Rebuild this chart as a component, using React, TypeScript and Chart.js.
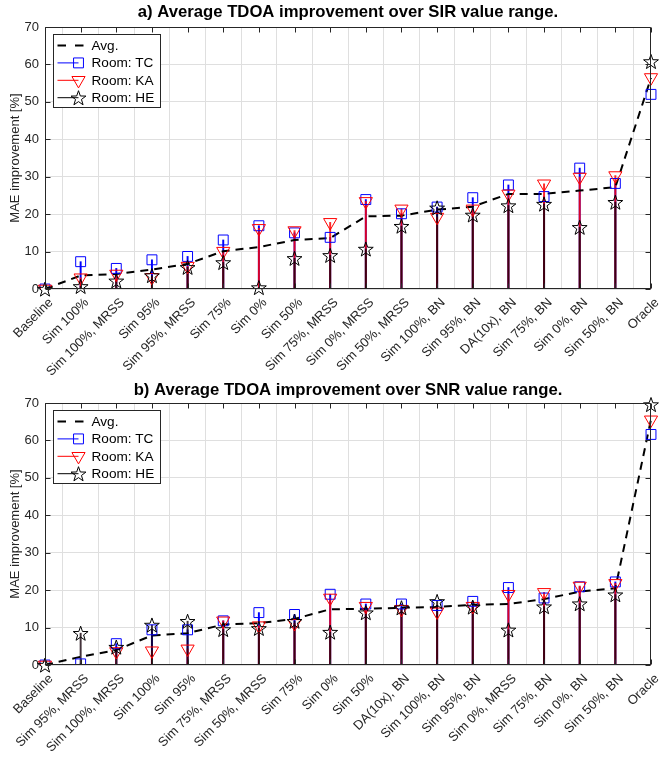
import React, { useEffect, useRef } from 'react';
import { Chart, registerables } from 'chart.js';
import { drawPoint } from 'chart.js/helpers';

Chart.register(...registerables);

const FONT = "'Liberation Sans', Arial, Helvetica, sans-serif";
const INK = '#262626';
const GRID = '#dfdfdf';
const BLUE = '#0000ff';
const RED = '#ff0000';

const legendLabels = ['Avg.', 'Room: TC', 'Room: KA', 'Room: HE'];
const yLabel = 'MAE improvement [%]';

// a) SIR
const sirTitle = 'a) Average TDOA improvement over SIR value range.';
const sirCategories = ['Baseline', 'Sim 100%', 'Sim 100%, MRSS', 'Sim 95%', 'Sim 95%, MRSS', 'Sim 75%', 'Sim 0%', 'Sim 50%', 'Sim 75%, MRSS', 'Sim 0%, MRSS', 'Sim 50%, MRSS', 'Sim 100%, BN', 'Sim 95%, BN', 'DA(10x), BN', 'Sim 75%, BN', 'Sim 0%, BN', 'Sim 50%, BN', 'Oracle'];
const sirAvg = [0, 3.6, 4.0, 5.2, 6.7, 10.1, 11.2, 13.1, 13.6, 19.4, 19.6, 21.2, 22.0, 25.4, 25.4, 26.3, 27.2, 56.4];
const sirTC = [0, 7.3, 5.5, 7.8, 8.7, 13.1, 16.9, 15.0, 13.8, 23.9, 20.1, 21.9, 24.4, 27.8, 24.7, 32.3, 28.2, 52.0];
const sirKA = [0, 3.0, 4.0, 3.1, 6.1, 10.1, 16.2, 15.6, 17.8, 23.4, 21.4, 19.2, 21.4, 25.4, 28.1, 29.9, 30.3, 56.5];
const sirHE = [0, 0.7, 2.2, 3.6, 5.8, 7.1, 0.4, 8.2, 9.0, 10.7, 16.8, 21.7, 19.8, 22.3, 22.7, 16.5, 23.2, 60.8];

// b) SNR
const snrTitle = 'b) Average TDOA improvement over SNR value range.';
const snrCategories = ['Baseline', 'Sim 95%, MRSS', 'Sim 100%, MRSS', 'Sim 100%', 'Sim 95%', 'Sim 75%, MRSS', 'Sim 50%, MRSS', 'Sim 75%', 'Sim 0%', 'Sim 50%', 'DA(10x), BN', 'Sim 100%, BN', 'Sim 95%, BN', 'Sim 0%, MRSS', 'Sim 75%, BN', 'Sim 0%, BN', 'Sim 50%, BN', 'Oracle'];
const snrAvg = [0, 2.2, 4.0, 7.9, 8.5, 10.8, 11.2, 12.3, 14.9, 15.0, 15.3, 15.5, 16.1, 16.3, 17.6, 19.6, 20.5, 65.6];
const snrTC = [0, 0.3, 5.7, 9.4, 9.4, 11.8, 14.0, 13.5, 18.9, 16.3, 16.3, 15.9, 17.0, 20.7, 17.9, 20.9, 22.2, 61.6];
const snrKA = [0, -2.2, 3.6, 3.8, 4.3, 11.8, 10.5, 11.1, 17.9, 15.7, 14.9, 14.2, 15.7, 18.9, 19.4, 21.1, 21.8, 65.5];
const snrHE = [0, 8.5, 4.8, 10.7, 11.7, 9.5, 9.8, 11.7, 8.8, 14.0, 15.3, 17.0, 15.5, 9.4, 15.6, 16.4, 18.8, 69.6];

const Y_MIN = 0;
const Y_MAX = 70;
const Y_STEP = 10;

function pentagram(ctx: CanvasRenderingContext2D, cx: number, cy: number) {
  const R = 7.8;
  const r = R * 0.4;
  const oy = cy + 0.8;
  ctx.save();
  ctx.setLineDash([]);
  ctx.beginPath();
  for (let i = 0; i < 10; i++) {
    const a = -Math.PI / 2 + (i * Math.PI) / 5;
    const rr = i % 2 === 0 ? R : r;
    const x = cx + rr * Math.cos(a);
    const y = oy + rr * Math.sin(a);
    if (i === 0) ctx.moveTo(x, y);
    else ctx.lineTo(x, y);
  }
  ctx.closePath();
  ctx.strokeStyle = '#000';
  ctx.lineWidth = 1;
  ctx.stroke();
  ctx.restore();
}

type PanelProps = {
  title: string;
  categories: string[];
  avg: number[];
  tc: number[];
  ka: number[];
  he: number[];
  height: number;
  padTop: number;
  titleY: number;
};

const STAR_DS = 6;

function Panel(props: PanelProps) {
  const ref = useRef<HTMLCanvasElement>(null);
  useEffect(() => {
    const canvas = ref.current!;
    const xAxisHeight = props.height - props.padTop - 262;
    const markerRadius = (r: number) => (c: any) => (typeof c.raw === 'number' && c.raw < Y_MIN ? 0 : r);

    const stem = (data: number[], color: string, order: number) => ({
      type: 'bar' as const,
      label: '',
      data,
      backgroundColor: color,
      borderWidth: 0,
      barThickness: 1.3,
      grouped: false,
      order,
    });
    const marker = (label: string, data: number[], color: string, style: any, radius: number, rotation: number, order: number) => ({
      type: 'line' as const,
      label,
      data,
      showLine: false,
      pointStyle: style,
      pointRadius: markerRadius(radius),
      pointHoverRadius: markerRadius(radius),
      pointRotation: rotation,
      pointBorderColor: color,
      pointBackgroundColor: 'rgba(0,0,0,0)',
      pointBorderWidth: 1,
      order,
    });

    const decor = {
      id: 'decor',
      afterDatasetsDraw(chart: any) {
        // pentagram markers for Room: HE, placed at the library-computed point positions
        const { ctx, chartArea: a } = chart;
        const meta = chart.getDatasetMeta(STAR_DS);
        ctx.save();
        ctx.beginPath();
        ctx.rect(a.left - 10, a.top - 10, a.right - a.left + 20, a.bottom - a.top + 20);
        ctx.clip();
        meta.data.forEach((el: any, i: number) => {
          const v = props.he[i];
          if (v < Y_MIN) return;
          pentagram(ctx, el.x, el.y);
        });
        ctx.restore();
      },
      afterDraw(chart: any) {
        const { ctx, chartArea: a, scales } = chart;
        const L = Math.round(a.left) + 0.5;
        const R = Math.round(a.right) - 0.5;
        const T = Math.round(a.top) + 0.5;
        const B = Math.round(a.bottom) - 0.5;
        ctx.save();
        // frame
        ctx.strokeStyle = INK;
        ctx.lineWidth = 1;
        ctx.beginPath();
        ctx.rect(L, T, R - L, B - T);
        // inward ticks
        const xs = scales.x;
        xs.ticks.forEach((_t: any, i: number) => {
          const px = Math.round(xs.getPixelForTick(i)) + 0.5;
          ctx.moveTo(px, T);
          ctx.lineTo(px, T + 5);
          ctx.moveTo(px, B);
          ctx.lineTo(px, B - 5);
        });
        const ys = scales.y;
        ys.ticks.forEach((t: any) => {
          const py = Math.round(ys.getPixelForValue(t.value)) + 0.5;
          ctx.moveTo(L, py);
          ctx.lineTo(L + 5, py);
          ctx.moveTo(R, py);
          ctx.lineTo(R - 5, py);
        });
        ctx.stroke();

        // title
        ctx.fillStyle = '#000';
        ctx.font = `bold 16.7px ${FONT}`;
        ctx.textAlign = 'center';
        ctx.textBaseline = 'middle';
        ctx.fillText(props.title, (a.left + a.right) / 2, props.titleY);

        // legend
        const lx = Math.round(a.left) + 8.5;
        const ly = Math.round(a.top) + 7.5;
        const lw = 107;
        const lh = 73;
        ctx.fillStyle = '#ffffff';
        ctx.fillRect(lx, ly, lw, lh);
        ctx.strokeStyle = INK;
        ctx.lineWidth = 1;
        ctx.strokeRect(lx, ly, lw, lh);
        const rowY = (k: number) => ly + 11 + k * 17.4;
        ctx.font = `13.6px ${FONT}`;
        ctx.textAlign = 'left';
        ctx.textBaseline = 'middle';
        legendLabels.forEach((lab, k) => {
          const y = rowY(k);
          ctx.save();
          if (k === 0) {
            ctx.strokeStyle = '#000';
            ctx.lineWidth = 2;
            ctx.setLineDash([8.5, 9]);
            ctx.beginPath();
            ctx.moveTo(lx + 4, y);
            ctx.lineTo(lx + 31, y);
            ctx.stroke();
          } else {
            const color = k === 1 ? BLUE : k === 2 ? RED : '#000';
            ctx.strokeStyle = color;
            ctx.lineWidth = 1;
            ctx.beginPath();
            ctx.moveTo(lx + 4, y);
            ctx.lineTo(lx + 25, y);
            ctx.stroke();
            ctx.fillStyle = 'rgba(0,0,0,0)';
            if (k === 1) drawPoint(ctx, { pointStyle: 'rect', radius: 7, rotation: 0, borderWidth: 1 } as any, lx + 25, y);
            if (k === 2) drawPoint(ctx, { pointStyle: 'triangle', radius: 7.6, rotation: 180, borderWidth: 1 } as any, lx + 25, y);
            if (k === 3) pentagram(ctx, lx + 25, y);
          }
          ctx.restore();
          ctx.fillStyle = '#000';
          ctx.fillText(lab, lx + 38, y + 0.5);
        });
        ctx.restore();
      },
    };

    const chart = new Chart(canvas, {
      data: {
        labels: props.categories,
        datasets: [
          stem(props.tc, BLUE, 20),
          stem(props.ka, 'rgba(255,0,0,0.85)', 19),
          stem(props.he, 'rgba(20,0,10,0.8)', 18),
          {
            type: 'line',
            label: legendLabels[0],
            data: props.avg,
            borderColor: '#000',
            borderWidth: 2,
            borderDash: [8, 6],
            pointRadius: 0,
            fill: false,
            tension: 0,
            order: 10,
          } as any,
          marker(legendLabels[1], props.tc, BLUE, 'rect', 7, 0, 5),
          marker(legendLabels[2], props.ka, RED, 'triangle', 7.6, 180, 4),
          {
            type: 'line',
            label: legendLabels[3],
            data: props.he,
            showLine: false,
            pointRadius: 0,
            pointHoverRadius: 0,
            order: 3,
          } as any,
        ] as any,
      },
      options: {
        responsive: false,
        animation: false,
        events: [],
        layout: { padding: { top: props.padTop, left: 0, right: 9, bottom: 0 } },
        plugins: {
          legend: { display: false },
          title: { display: false },
          tooltip: { enabled: false },
        },
        scales: {
          x: {
            type: 'category',
            offset: false,
            grid: { color: GRID, drawTicks: false, lineWidth: 1 },
            border: { display: false },
            ticks: {
              autoSkip: false,
              maxRotation: 45,
              minRotation: 45,
              padding: 6,
              labelOffset: 6,
              color: INK,
              font: { family: FONT, size: 13 },
            },
            afterFit: (s: any) => {
              s.height = xAxisHeight;
              s.paddingLeft = 0;
              s.paddingRight = 0;
            },
          },
          y: {
            type: 'linear',
            min: Y_MIN,
            max: Y_MAX,
            grid: { color: GRID, drawTicks: false, lineWidth: 1 },
            border: { display: false },
            ticks: {
              stepSize: Y_STEP,
              padding: 6,
              color: INK,
              font: { family: FONT, size: 13 },
            },
            title: {
              display: true,
              text: yLabel,
              color: INK,
              font: { family: FONT, size: 13 },
              padding: { top: 8, bottom: 2 },
            },
            afterFit: (s: any) => {
              s.width = 45;
            },
          },
        },
      },
      plugins: [decor],
    });
    return () => chart.destroy();
  }, []);
  return <canvas ref={ref} width={660} height={props.height} style={{ display: 'block', width: 660, height: props.height }} />;
}

export default function App() {
  return (
    <div style={{ position: 'absolute', left: 0, top: 0, width: 660, height: 762, background: '#fff' }}>
      <Panel title={sirTitle} categories={sirCategories} avg={sirAvg} tc={sirTC} ka={sirKA} he={sirHE} height={381} padTop={27} titleY={12} />
      <Panel title={snrTitle} categories={snrCategories} avg={snrAvg} tc={snrTC} ka={snrKA} he={snrHE} height={381} padTop={22} titleY={9.5} />
    </div>
  );
}
